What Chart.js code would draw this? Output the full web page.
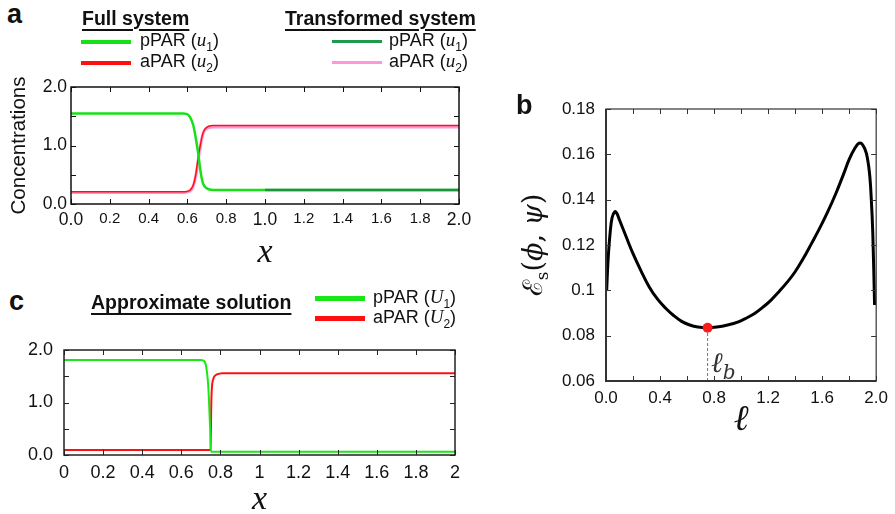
<!DOCTYPE html>
<html>
<head>
<meta charset="utf-8">
<script src="https://cdn.jsdelivr.net/npm/chart.js@4.4.1/dist/chart.umd.min.js"></script>
<style>
body { margin:0; width:895px; height:514px; overflow:hidden; background:#fff; position:relative;
       font-family:'Liberation Sans', Arial, sans-serif; color:#111; }
canvas { position:absolute; }
.t { position:absolute; white-space:nowrap; line-height:1; z-index:2; }
.panel { font-weight:bold; font-size:27px; }
.head { font-weight:bold; font-size:19.5px; text-decoration:underline; text-decoration-thickness:2px; text-underline-offset:4px; }
.row { position:absolute; height:20px; display:flex; align-items:center; font-size:18px; white-space:nowrap; z-index:2; }
.row .ln { display:inline-block; width:50px; }
.m { font-family:'Liberation Serif', 'DejaVu Serif', serif; font-style:italic; font-size:19px; }
sub { font-size:12px; }
</style>
</head>
<body>

<div class="t panel" style="left:7px;top:1px">a</div>
<div class="t head" style="left:82px;top:8.5px">Full system</div>
<div class="t head" style="left:285px;top:8.5px">Transformed system</div>
<div class="row" style="left:81px;top:31.7px"><span class="ln" style="background:#18e018;height:4px;margin-right:9px"></span><span>pPAR (<span class="m">u</span><sub>1</sub>)</span></div>
<div class="row" style="left:81px;top:52.5px"><span class="ln" style="background:#ff1010;height:4px;margin-right:9px"></span><span>aPAR (<span class="m">u</span><sub>2</sub>)</span></div>
<div class="row" style="left:332px;top:31.7px"><span class="ln" style="background:#1f9a4c;height:3px;margin-right:7px"></span><span>pPAR (<span class="m">u</span><sub>1</sub>)</span></div>
<div class="row" style="left:332px;top:52.5px"><span class="ln" style="background:#ff96d8;height:3px;margin-right:7px"></span><span>aPAR (<span class="m">u</span><sub>2</sub>)</span></div>

<div class="t panel" style="left:516px;top:92px">b</div>
<div class="t" style="left:535px;top:245px;transform:translate(-50%,-50%) rotate(-90deg);font-family:'DejaVu Serif', serif;font-size:27px">ℰ<sub style="font-size:17px">s</sub>(<i>ϕ</i>, <i>ψ</i>)</div>
<div class="t" style="left:711px;top:349px;font-family:'DejaVu Serif', serif;font-style:italic;font-size:28px;color:#333">ℓ<sub style="font-size:20px">b</sub></div>

<div class="t panel" style="left:9px;top:288px">c</div>
<div class="t head" style="left:91px;top:293px">Approximate solution</div>
<div class="row" style="left:315px;top:288.3px"><span class="ln" style="background:#18e818;height:5px;margin-right:8px"></span><span>pPAR (<span class="m">U</span><sub>1</sub>)</span></div>
<div class="row" style="left:315px;top:308.3px"><span class="ln" style="background:#ff1010;height:5px;margin-right:8px"></span><span>aPAR (<span class="m">U</span><sub>2</sub>)</span></div>

<canvas id="ca" width="480" height="200" style="left:0;top:70px"></canvas>
<canvas id="cb" width="405" height="360" style="left:490px;top:80px"></canvas>
<canvas id="cc" width="480" height="184" style="left:0;top:330px"></canvas>

<script>
// ---- panel a: full system and transformed system ----
const xFull     = [0, 0.58, 0.596, 0.613, 0.630, 0.642, 0.656, 0.668, 0.681, 0.699, 0.731, 0.78, 2.0];
const pparFull  = [1.545, 1.545, 1.54, 1.49, 1.35, 1.15, 0.86, 0.55, 0.35, 0.27, 0.24, 0.24, 0.24];
const aparFull  = [0.21, 0.21, 0.215, 0.235, 0.32, 0.48, 0.80, 1.03, 1.22, 1.31, 1.342, 1.342, 1.342];
const xTransP   = [1.0, 2.0];
const pparTrans = [0.24, 0.24];
const xTransA   = [0, 0.58, 0.613, 0.630, 0.647, 0.660, 0.673, 0.685, 0.707, 0.733, 0.78, 2.0];
const aparTrans = [0.195, 0.195, 0.22, 0.30, 0.55, 0.84, 1.10, 1.24, 1.30, 1.318, 1.318, 1.318];

// ---- panel b: energy vs ell ----
const ell    = [0.005, 0.015, 0.03, 0.045, 0.066, 0.08, 0.10, 0.15, 0.20, 0.26, 0.32, 0.38, 0.44, 0.50,
                0.56, 0.62, 0.68, 0.752, 0.82, 0.90, 0.98, 1.04, 1.10, 1.16, 1.22, 1.28, 1.34, 1.40,
                1.46, 1.52, 1.58, 1.64, 1.70, 1.76, 1.80, 1.84, 1.874, 1.90, 1.927, 1.95, 1.964, 1.975, 1.988];
const energy = [0.100, 0.113, 0.125, 0.132, 0.1347, 0.134, 0.131, 0.1235, 0.1162, 0.1085, 0.1015, 0.0962, 0.0922, 0.0889,
                0.0863, 0.0847, 0.0838, 0.0835, 0.0838, 0.0847, 0.0861, 0.0878, 0.0898, 0.0925, 0.0956, 0.0994, 0.1035, 0.1082,
                0.1140, 0.1205, 0.1272, 0.1345, 0.1425, 0.1515, 0.1578, 0.1625, 0.1649, 0.1642, 0.1605, 0.152, 0.140, 0.125, 0.0935];
const ellB = 0.752;
const energyMin = 0.0835;

// ---- panel c: approximate solution ----
const xU1 = [0, 0.70, 0.7125, 0.726, 0.738, 0.747, 0.752, 2.0];
const U1  = [1.81, 1.81, 1.80, 1.71, 1.30, 0.55, 0.06, 0.06];
const xU2 = [0, 0.750, 0.753, 0.756, 0.764, 0.772, 0.781, 0.795, 0.81, 2.0];
const U2  = [0.095, 0.095, 0.9, 1.25, 1.45, 1.51, 1.535, 1.55, 1.555, 1.555];

const pts = (xs, ys) => xs.map((x, i) => ({x: x, y: ys[i]}));

function lineSet(data, color, width) {
  return { data: data, borderColor: color, borderWidth: width, pointRadius: 0,
           fill: false, cubicInterpolationMode: 'monotone' };
}

// inward tick marks on all four sides plus the box round the plot
const frameTicks = {
  id: 'frameTicks',
  afterDatasetsDraw(chart, args, opts) {
    const ctx = chart.ctx, a = chart.chartArea;
    const xs = chart.scales.x, ys = chart.scales.y;
    const len = opts.len || 5;
    ctx.save();
    ctx.strokeStyle = opts.color || '#222';
    ctx.lineWidth = 1;
    ctx.beginPath();
    xs.ticks.forEach(t => {
      const px = Math.round(xs.getPixelForValue(t.value)) + 0.5;
      ctx.moveTo(px, a.bottom); ctx.lineTo(px, a.bottom - len);
      ctx.moveTo(px, a.top); ctx.lineTo(px, a.top + len);
    });
    ys.ticks.forEach(t => {
      const py = Math.round(ys.getPixelForValue(t.value)) + 0.5;
      ctx.moveTo(a.left, py); ctx.lineTo(a.left + len, py);
      ctx.moveTo(a.right, py); ctx.lineTo(a.right - len, py);
    });
    ctx.stroke();
    ctx.lineWidth = opts.width || 1.5;
    ctx.strokeRect(a.left, a.top, a.right - a.left, a.bottom - a.top);
    if (opts.axisWidth) {
      ctx.lineWidth = opts.axisWidth;
      ctx.beginPath();
      ctx.moveTo(a.left, a.top); ctx.lineTo(a.left, a.bottom); ctx.lineTo(a.right, a.bottom);
      ctx.stroke();
    }
    ctx.restore();
  }
};

Chart.defaults.font.family = "'Liberation Sans', Arial, sans-serif";
Chart.defaults.color = '#111';

const isWhole = v => Math.abs(v - Math.round(v)) < 1e-9;
const noGrid = { display: false, drawTicks: false };
const base = { responsive: false, animation: false, devicePixelRatio: 1,
               plugins: { legend: { display: false }, tooltip: { enabled: false } } };

// panel a
new Chart(document.getElementById('ca'), {
  type: 'line',
  data: { datasets: [
    lineSet(pts(xTransP, pparTrans), '#1f9141', 2.5),
    lineSet(pts(xFull, pparFull), '#18e018', 2.5),
    lineSet(pts(xFull, aparFull), '#ff1010', 1.5),
    lineSet(pts(xTransA, aparTrans), '#ff9ad8', 3)
  ]},
  options: Object.assign({}, base, {
    layout: { padding: { top: 17, right: 21, left: 0, bottom: 0 } },
    plugins: Object.assign({}, base.plugins, { frameTicks: { len: 5, color: '#111', width: 1.5 } }),
    scales: {
      x: { type: 'linear', min: 0, max: 2, grid: noGrid, border: { display: false },
           ticks: { stepSize: 0.2, padding: 6, autoSkip: false, maxRotation: 0,
                    font: c => ({ size: (c.tick && isWhole(c.tick.value)) ? 17.5 : 15 }),
                    callback: v => v.toFixed(1) },
           title: { display: true, text: 'x', color: '#111',
                    font: { family: "'Liberation Serif', serif", style: 'italic', size: 34, lineHeight: 1 },
                    padding: { top: 0, bottom: 0 } },
           afterFit: s => { s.height = 66; } },
      y: { min: 0, max: 2, grid: noGrid, border: { display: false },
           ticks: { stepSize: 0.5, padding: 4, autoSkip: false, font: { size: 17.5 },
                    callback: v => isWhole(v) ? v.toFixed(1) : '' },
           title: { display: true, text: 'Concentrations', color: '#111', font: { size: 20.5 },
                    padding: { top: 7.3, bottom: 0 } },
           afterFit: s => { s.width = 71; } }
    }
  }),
  plugins: [frameTicks]
});

// panel b
const curveB = lineSet(pts(ell, energy), '#000', 3);
curveB.cubicInterpolationMode = 'default';
curveB.tension = 0.4;
new Chart(document.getElementById('cb'), {
  type: 'line',
  data: { datasets: [
    { data: [{x: ellB, y: energyMin}], showLine: false, pointRadius: 5, pointBackgroundColor: '#ff1a1a',
      pointBorderWidth: 0 },
    curveB,
    { data: [{x: ellB, y: 0.06}, {x: ellB, y: energyMin}], borderColor: '#777', borderWidth: 1,
      borderDash: [3, 2], pointRadius: 0 }
  ]},
  options: Object.assign({}, base, {
    layout: { padding: { top: 29, right: 15, left: 0, bottom: 0 } },
    plugins: Object.assign({}, base.plugins, { frameTicks: { len: 5, color: '#333', width: 1.2, axisWidth: 2 } }),
    scales: {
      x: { type: 'linear', min: 0, max: 2, grid: noGrid, border: { display: false },
           ticks: { stepSize: 0.2, padding: 7, autoSkip: false, maxRotation: 0, font: { size: 17 },
                    callback: (v, i) => i % 2 === 0 ? v.toFixed(1) : '' },
           title: { display: true, text: 'ℓ', color: '#111',
                    font: { family: "'DejaVu Serif', serif", style: 'italic', size: 36, lineHeight: 1 },
                    padding: { top: 0, bottom: 1 } },
           afterFit: s => { s.height = 59; } },
      y: { min: 0.06, max: 0.18, grid: noGrid, border: { display: false },
           ticks: { stepSize: 0.02, padding: 11, autoSkip: false, font: { size: 17 },
                    callback: v => Math.abs(v - 0.1) < 1e-9 ? '0.1' : v.toFixed(2) },
           afterFit: s => { s.width = 116; } }
    }
  }),
  plugins: [frameTicks]
});

// panel c
new Chart(document.getElementById('cc'), {
  type: 'line',
  data: { datasets: [
    lineSet(pts(xU1, U1), '#18e818', 2),
    lineSet(pts(xU2, U2), '#ff1010', 2)
  ]},
  options: Object.assign({}, base, {
    layout: { padding: { top: 10, right: 25, left: 0, bottom: 0 } },
    plugins: Object.assign({}, base.plugins, { frameTicks: { len: 5, color: '#222', width: 1.5 } }),
    scales: {
      x: { type: 'linear', min: 0, max: 2, grid: noGrid, border: { display: false },
           ticks: { stepSize: 0.2, padding: 7.5, autoSkip: false, maxRotation: 0, font: { size: 18 },
                    callback: v => String(Math.round(v * 10) / 10) },
           title: { display: true, text: 'x', color: '#111',
                    font: { family: "'Liberation Serif', serif", style: 'italic', size: 34, lineHeight: 0.8 },
                    padding: { top: 0, bottom: 0 } },
           afterFit: s => { s.height = 59; } },
      y: { min: 0, max: 2, grid: noGrid, border: { display: false },
           ticks: { stepSize: 0.5, padding: 11, autoSkip: false, font: { size: 18, lineHeight: 1 },
                    callback: v => isWhole(v) ? v.toFixed(1) : '' },
           afterFit: s => { s.width = 64; } }
    }
  }),
  plugins: [frameTicks]
});
</script>
</body>
</html>
